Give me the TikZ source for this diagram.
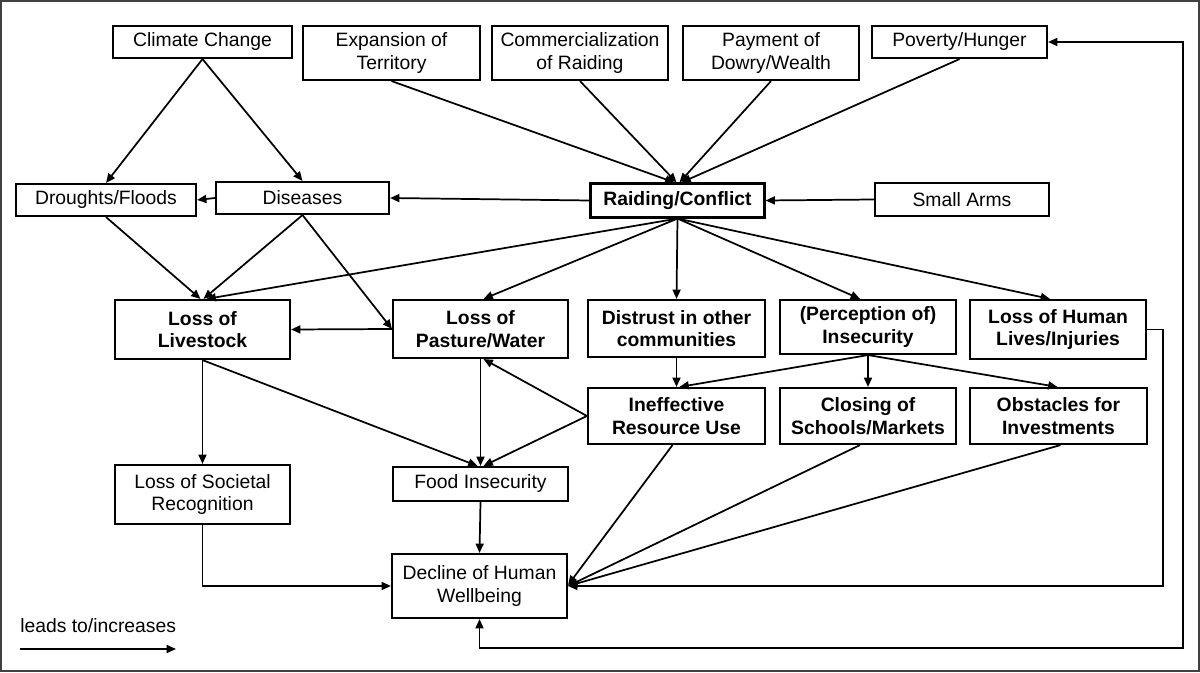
\documentclass[tikz,border=0pt]{standalone}
\usepackage{fontspec}
\setmainfont{Liberation Sans}
\usetikzlibrary{arrows.meta,calc}
\newcommand{\nfont}{\fontsize{14.5}{17}\selectfont}
\tikzset{
  box/.style={draw, line width=1.6pt, inner sep=0pt, align=center, font=\nfont},
  bbox/.style={box, font=\nfont\bfseries},
  sz/.style 2 args={minimum width=#1*0.75pt, minimum height=#2*0.75pt},
  arr/.style={line width=1.3pt, -{Triangle[length=7pt,width=6pt]}},
  darr/.style={line width=1.3pt, {Triangle[length=7pt,width=6pt]}-{Triangle[length=7pt,width=6pt]}}
}
\begin{document}
\begin{tikzpicture}[x=0.75pt,y=-0.75pt]
\useasboundingbox (0,0) rectangle (1200,673);
\draw[line width=1.2pt, black!75] (1,1) rectangle (1199,671);
% top row
\node[box,sz={179}{32}] (cc) at (202.5,42) {Climate Change};
\node[box,sz={177}{54}] (exp) at (391.5,53) {Expansion of\\Territory};
\node[box,sz={176}{54}] (com) at (580,53) {Commercialization\\of Raiding};
\node[box,sz={176}{54}] (pay) at (771,53) {Payment of\\Dowry/Wealth};
\node[box,sz={175}{32}] (pov) at (959.5,42) {Poverty/Hunger};
% second row
\node[box,sz={180}{32}] (dro) at (106,200) {Droughts/Floods};
\node[box,sz={173}{32}] (dis) at (302.5,198) {Diseases};
\node[bbox,sz={174}{34}] (rai) at (677.5,200.5) {Raiding/Conflict};
\node[box,sz={174}{33}] (sma) at (962,199.5) {Small Arms};
% third row
\node[bbox,sz={175}{59}] (liv) at (202.5,329.5) {Loss of\\Livestock};
\node[bbox,sz={175}{58}] (pas) at (480.5,329) {Loss of\\Pasture/Water};
\node[bbox,sz={177}{57}] (dst) at (676.5,328.5) {Distrust in other\\communities};
\node[bbox,sz={176}{54}] (per) at (868,327) {(Perception of)\\Insecurity};
\node[bbox,sz={176}{59}] (hum) at (1058,329.5) {Loss of Human\\Lives/Injuries};
% fourth row
\node[bbox,sz={177}{56}] (ine) at (676.5,416) {Ineffective\\Resource Use};
\node[bbox,sz={176}{56}] (clo) at (868,416) {Closing of\\Schools/Markets};
\node[bbox,sz={177}{56}] (obs) at (1058.5,416) {Obstacles for\\Investments};
% lower
\node[box,sz={175}{59}] (soc) at (202.5,494.5) {Loss of Societal\\Recognition};
\node[box,sz={175}{34}] (foo) at (480.5,484) {Food Insecurity};
\node[box,sz={175}{64}] (dec) at (479.5,586) {Decline of Human\\Wellbeing};
% legend
\node[font=\nfont, anchor=west, inner sep=0pt] (leg) at (20,626) {leads to/increases};
\coordinate (la) at (20,649);
\coordinate (lb) at (176,649);
\draw[arr] (la) -- (lb);
% connectors
\draw[arr] (cc.south) -- (dro.north);
\draw[arr] (cc.south) -- (dis.north);
\draw[arr] (exp.south) -- ($(rai.north)+(-3,0)$);
\draw[arr] (com.south) -- ($(rai.north)+(-1,0)$);
\draw[arr] (pay.south) -- ($(rai.north)+(2,0)$);
\draw[arr] (pov.south) -- ($(rai.north)+(4,0)$);
\draw[arr] (sma.west) -- (rai.east);
\draw[arr] (rai.west) -- (dis.east);
\draw[arr] (dis.west) -- (dro.east);
\draw[arr] (dro.south) -- ($(liv.north)+(-2,0)$);
\draw[arr] (dis.south) -- ($(liv.north)+(1,0)$);
\draw[arr] (dis.south) -- (pas.west);
\draw[arr] (rai.south) -- ($(liv.north)+(4,0)$);
\draw[arr] (rai.south) -- ($(pas.north)+(3,0)$);
\draw[arr] (rai.south) -- (dst.north);
\draw[arr] (rai.south) -- ($(per.north)+(-8,0)$);
\draw[arr] (rai.south) -- ($(hum.north)+(-8,0)$);
\draw[arr] (pas.west) -- (liv.east);
\draw[arr] (dst.south) -- (ine.north);
\draw[arr] (per.south) -- ($(ine.north)+(3,0)$);
\draw[arr] (per.south) -- (clo.north);
\draw[arr] (per.south) -- ($(obs.north)+(-1,0)$);
\draw[arr] (liv.south) -- (soc.north);
\draw[arr] (liv.south) -- ($(foo.north)+(-3,0)$);
\draw[arr] (pas.south) -- (foo.north);
\draw[arr] (ine.west) -- ($(pas.south)+(3,0)$);
\draw[arr] (ine.west) -- ($(foo.north)+(3,0)$);
\draw[arr] (foo.south) -- (dec.north);
\draw[arr] (soc.south) |- (dec.west);
\draw[arr] ($(ine.south)+(-4,0)$) -- ($(dec.east)+(0,-1)$);
\draw[arr] ($(clo.south)+(-8,0)$) -- (dec.east);
\draw[arr] ($(obs.south)+(2,0)$) -- (dec.east);
\draw[arr] (hum.east) -| ($(dec.east)+(595,0)$) -- (dec.east);
\coordinate (lc) at (1183,648);
\draw[darr] (pov.east) -| (lc) -| (dec.south);
\end{tikzpicture}
\end{document}
